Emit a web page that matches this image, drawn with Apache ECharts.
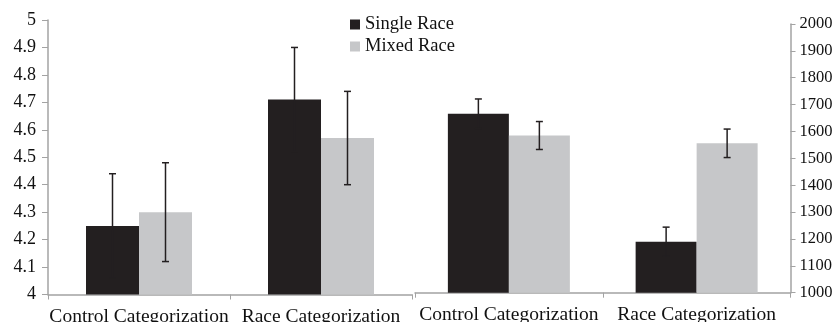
<!DOCTYPE html>
<html><head><meta charset="utf-8">
<script src="https://cdn.jsdelivr.net/npm/echarts@6/dist/echarts.min.js"></script>
<style>html,body{margin:0;padding:0;background:#fff}#c{width:839px;height:322px}</style>
</head><body><div id="c"></div><script>
const categories = ['Control Categorization', 'Race Categorization'];
const seriesNames = ['Single Race', 'Mixed Race'];
const leftSingle = [4.25, 4.71];
const leftSingleErr = [0.19, 0.19];
const leftMixed = [4.30, 4.57];
const leftMixedErr = [0.18, 0.17];
const rightSingle = [1666, 1190];
const rightSingleErr = [55, 54];
const rightMixed = [1585, 1556];
const rightMixedErr = [52, 53];

const DARK = '#231f20', GRAY = '#c6c7c9', AXIS = '#a3a3a3';
const FONT = '"Liberation Serif", "Times New Roman", serif';
const BW_L = 53, BW_R = 61;

function errSeries(name, vals, errs, gi, side, bw) {
  return {
    type: 'custom', name: name + ' err', xAxisIndex: gi, yAxisIndex: gi, z: 5,
    silent: true,
    data: vals.map((v, i) => [i, v, errs[i]]),
    renderItem: function (params, api) {
      const i = api.value(0), v = api.value(1), e = api.value(2);
      const c = api.coord([i, v]);
      const x = c[0] + side * bw / 2;
      const t = api.coord([i, v + e])[1];
      const b = api.coord([i, v - e])[1];
      const cap = 3.5;
      const st = { stroke: DARK, lineWidth: 1.5 };
      return { type: 'group', children: [
        { type: 'line', shape: { x1: x, y1: t, x2: x, y2: b }, style: st },
        { type: 'line', shape: { x1: x - cap, y1: t, x2: x + cap, y2: t }, style: st },
        { type: 'line', shape: { x1: x - cap, y1: b, x2: x + cap, y2: b }, style: st }
      ]};
    }
  };
}

function xAx(gi) {
  return {
    type: 'category', gridIndex: gi, data: categories,
    axisLine: { lineStyle: { color: AXIS, width: 1.5 } },
    axisTick: { show: true, length: 5, alignWithLabel: false, lineStyle: { color: AXIS, width: 1 } },
    axisLabel: { color: '#111', fontFamily: FONT, fontSize: 19.5, margin: 12, interval: 0 }
  };
}

const chart = echarts.init(document.getElementById('c'), null, { renderer: 'canvas' });
chart.setOption({
  animation: false,
  backgroundColor: '#fff',
  legend: {
    data: seriesNames.map((n, k) => ({ name: n, itemStyle: { color: k ? GRAY : DARK } })),
    orient: 'vertical', left: 345, top: 10, icon: 'rect', itemWidth: 10, itemHeight: 10, itemGap: 3,
    textStyle: { color: '#111', fontFamily: FONT, fontSize: 18.5, lineHeight: 18 }
  },
  grid: [
    { left: 48, right: 427, top: 20, bottom: 27.5, containLabel: false, outerBoundsMode: 'none' },
    { left: 415, right: 48.5, top: 24, bottom: 29.3, containLabel: false, outerBoundsMode: 'none' }
  ],
  xAxis: [xAx(0), xAx(1)],
  yAxis: [
    { type: 'value', gridIndex: 0, min: 4, max: 5, interval: 0.1, position: 'left',
      splitLine: { show: false },
      axisLine: { show: true, lineStyle: { color: AXIS, width: 1.5 } },
      axisTick: { show: true, length: 6, lineStyle: { color: AXIS } },
      axisLabel: { color: '#111', fontFamily: FONT, fontSize: 18, margin: 12,
        formatter: v => String(Math.round(v * 10) / 10) } },
    { type: 'value', gridIndex: 1, min: 1000, max: 2000, interval: 100, position: 'right',
      splitLine: { show: false },
      axisLine: { show: true, lineStyle: { color: AXIS, width: 1.5 } },
      axisTick: { show: true, length: 5, lineStyle: { color: AXIS } },
      axisLabel: { color: '#111', fontFamily: FONT, fontSize: 16.5, margin: 9,
        formatter: v => String(Math.round(v)) } }
  ],
  series: [
    { type: 'bar', name: seriesNames[0], xAxisIndex: 0, yAxisIndex: 0, data: leftSingle, barWidth: BW_L, barGap: '0%', itemStyle: { color: DARK } },
    { type: 'bar', name: seriesNames[1], xAxisIndex: 0, yAxisIndex: 0, data: leftMixed, barWidth: BW_L, barGap: '0%', itemStyle: { color: GRAY } },
    { type: 'bar', name: seriesNames[0], xAxisIndex: 1, yAxisIndex: 1, data: rightSingle, barWidth: BW_R, barGap: '0%', itemStyle: { color: DARK } },
    { type: 'bar', name: seriesNames[1], xAxisIndex: 1, yAxisIndex: 1, data: rightMixed, barWidth: BW_R, barGap: '0%', itemStyle: { color: GRAY } },
    errSeries(seriesNames[0], leftSingle, leftSingleErr, 0, -1, BW_L),
    errSeries(seriesNames[1], leftMixed, leftMixedErr, 0, 1, BW_L),
    errSeries(seriesNames[0], rightSingle, rightSingleErr, 1, -1, BW_R),
    errSeries(seriesNames[1], rightMixed, rightMixedErr, 1, 1, BW_R)
  ]
});
</script></body></html>
